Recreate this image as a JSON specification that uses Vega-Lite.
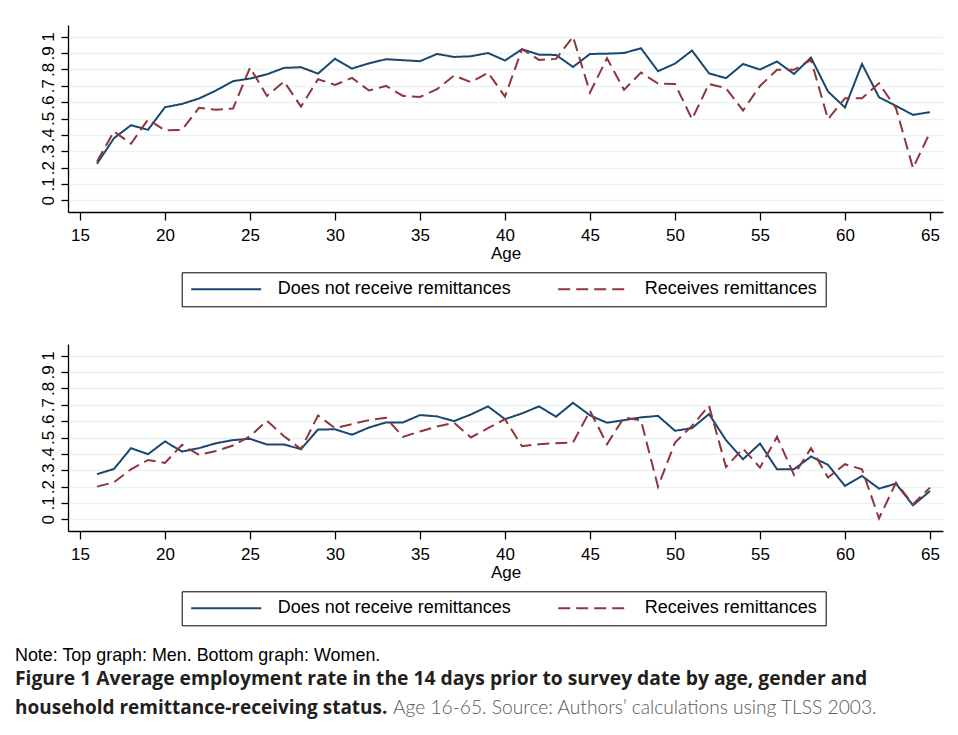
{
  "$schema": "https://vega.github.io/schema/vega-lite/v6.json",
  "padding": {"left": 15, "top": 25, "right": 10, "bottom": 5},
  "background": "white",
  "datasets": {
    "men": [
      {"age":16,"Does not receive remittances":0.224,"Receives remittances":0.238},
      {"age":17,"Does not receive remittances":0.380,"Receives remittances":0.421},
      {"age":18,"Does not receive remittances":0.459,"Receives remittances":0.346},
      {"age":19,"Does not receive remittances":0.431,"Receives remittances":0.494},
      {"age":20,"Does not receive remittances":0.569,"Receives remittances":0.427},
      {"age":21,"Does not receive remittances":0.589,"Receives remittances":0.431},
      {"age":22,"Does not receive remittances":0.622,"Receives remittances":0.565},
      {"age":23,"Does not receive remittances":0.671,"Receives remittances":0.553},
      {"age":24,"Does not receive remittances":0.728,"Receives remittances":0.561},
      {"age":25,"Does not receive remittances":0.744,"Receives remittances":0.811},
      {"age":26,"Does not receive remittances":0.770,"Receives remittances":0.638},
      {"age":27,"Does not receive remittances":0.809,"Receives remittances":0.726},
      {"age":28,"Does not receive remittances":0.813,"Receives remittances":0.573},
      {"age":29,"Does not receive remittances":0.774,"Receives remittances":0.740},
      {"age":30,"Does not receive remittances":0.865,"Receives remittances":0.705},
      {"age":31,"Does not receive remittances":0.805,"Receives remittances":0.748},
      {"age":32,"Does not receive remittances":0.837,"Receives remittances":0.671},
      {"age":33,"Does not receive remittances":0.862,"Receives remittances":0.699},
      {"age":34,"Does not receive remittances":0.856,"Receives remittances":0.638},
      {"age":35,"Does not receive remittances":0.850,"Receives remittances":0.632},
      {"age":36,"Does not receive remittances":0.894,"Receives remittances":0.679},
      {"age":37,"Does not receive remittances":0.876,"Receives remittances":0.762},
      {"age":38,"Does not receive remittances":0.880,"Receives remittances":0.722},
      {"age":39,"Does not receive remittances":0.900,"Receives remittances":0.780},
      {"age":40,"Does not receive remittances":0.854,"Receives remittances":0.634},
      {"age":41,"Does not receive remittances":0.923,"Receives remittances":0.923},
      {"age":42,"Does not receive remittances":0.890,"Receives remittances":0.858},
      {"age":43,"Does not receive remittances":0.888,"Receives remittances":0.864},
      {"age":44,"Does not receive remittances":0.815,"Receives remittances":1.0},
      {"age":45,"Does not receive remittances":0.894,"Receives remittances":0.659},
      {"age":46,"Does not receive remittances":0.896,"Receives remittances":0.868},
      {"age":47,"Does not receive remittances":0.900,"Receives remittances":0.675},
      {"age":48,"Does not receive remittances":0.929,"Receives remittances":0.780},
      {"age":49,"Does not receive remittances":0.789,"Receives remittances":0.713},
      {"age":50,"Does not receive remittances":0.835,"Receives remittances":0.711},
      {"age":51,"Does not receive remittances":0.915,"Receives remittances":0.496},
      {"age":52,"Does not receive remittances":0.776,"Receives remittances":0.711},
      {"age":53,"Does not receive remittances":0.746,"Receives remittances":0.685},
      {"age":54,"Does not receive remittances":0.833,"Receives remittances":0.549},
      {"age":55,"Does not receive remittances":0.799,"Receives remittances":0.699},
      {"age":56,"Does not receive remittances":0.848,"Receives remittances":0.797},
      {"age":57,"Does not receive remittances":0.772,"Receives remittances":0.797},
      {"age":58,"Does not receive remittances":0.872,"Receives remittances":0.858},
      {"age":59,"Does not receive remittances":0.665,"Receives remittances":0.496},
      {"age":60,"Does not receive remittances":0.567,"Receives remittances":0.624},
      {"age":61,"Does not receive remittances":0.833,"Receives remittances":0.624},
      {"age":62,"Does not receive remittances":0.630,"Receives remittances":0.715},
      {"age":63,"Does not receive remittances":0.577,"Receives remittances":0.563},
      {"age":64,"Does not receive remittances":0.522,"Receives remittances":0.197},
      {"age":65,"Does not receive remittances":0.539,"Receives remittances":0.415}
    ],
    "women": [
      {"age":16,"Does not receive remittances":0.276,"Receives remittances":0.200},
      {"age":17,"Does not receive remittances":0.308,"Receives remittances":0.227},
      {"age":18,"Does not receive remittances":0.435,"Receives remittances":0.306},
      {"age":19,"Does not receive remittances":0.398,"Receives remittances":0.363},
      {"age":20,"Does not receive remittances":0.476,"Receives remittances":0.345},
      {"age":21,"Does not receive remittances":0.414,"Receives remittances":0.455},
      {"age":22,"Does not receive remittances":0.435,"Receives remittances":0.394},
      {"age":23,"Does not receive remittances":0.465,"Receives remittances":0.418},
      {"age":24,"Does not receive remittances":0.484,"Receives remittances":0.451},
      {"age":25,"Does not receive remittances":0.492,"Receives remittances":0.508},
      {"age":26,"Does not receive remittances":0.457,"Receives remittances":0.602},
      {"age":27,"Does not receive remittances":0.457,"Receives remittances":0.508},
      {"age":28,"Does not receive remittances":0.429,"Receives remittances":0.429},
      {"age":29,"Does not receive remittances":0.549,"Receives remittances":0.635},
      {"age":30,"Does not receive remittances":0.550,"Receives remittances":0.557},
      {"age":31,"Does not receive remittances":0.517,"Receives remittances":0.582},
      {"age":32,"Does not receive remittances":0.561,"Receives remittances":0.606},
      {"age":33,"Does not receive remittances":0.592,"Receives remittances":0.620},
      {"age":34,"Does not receive remittances":0.592,"Receives remittances":0.504},
      {"age":35,"Does not receive remittances":0.637,"Receives remittances":0.537},
      {"age":36,"Does not receive remittances":0.629,"Receives remittances":0.567},
      {"age":37,"Does not receive remittances":0.600,"Receives remittances":0.590},
      {"age":38,"Does not receive remittances":0.641,"Receives remittances":0.500},
      {"age":39,"Does not receive remittances":0.690,"Receives remittances":0.557},
      {"age":40,"Does not receive remittances":0.612,"Receives remittances":0.612},
      {"age":41,"Does not receive remittances":0.647,"Receives remittances":0.447},
      {"age":42,"Does not receive remittances":0.690,"Receives remittances":0.459},
      {"age":43,"Does not receive remittances":0.627,"Receives remittances":0.465},
      {"age":44,"Does not receive remittances":0.712,"Receives remittances":0.469},
      {"age":45,"Does not receive remittances":0.635,"Receives remittances":0.663},
      {"age":46,"Does not receive remittances":0.590,"Receives remittances":0.459},
      {"age":47,"Does not receive remittances":0.606,"Receives remittances":0.622},
      {"age":48,"Does not receive remittances":0.623,"Receives remittances":0.604},
      {"age":49,"Does not receive remittances":0.632,"Receives remittances":0.200},
      {"age":50,"Does not receive remittances":0.541,"Receives remittances":0.469},
      {"age":51,"Does not receive remittances":0.557,"Receives remittances":0.571},
      {"age":52,"Does not receive remittances":0.643,"Receives remittances":0.694},
      {"age":53,"Does not receive remittances":0.484,"Receives remittances":0.320},
      {"age":54,"Does not receive remittances":0.367,"Receives remittances":0.433},
      {"age":55,"Does not receive remittances":0.463,"Receives remittances":0.316},
      {"age":56,"Does not receive remittances":0.306,"Receives remittances":0.504},
      {"age":57,"Does not receive remittances":0.306,"Receives remittances":0.271},
      {"age":58,"Does not receive remittances":0.384,"Receives remittances":0.435},
      {"age":59,"Does not receive remittances":0.333,"Receives remittances":0.255},
      {"age":60,"Does not receive remittances":0.204,"Receives remittances":0.337},
      {"age":61,"Does not receive remittances":0.265,"Receives remittances":0.306},
      {"age":62,"Does not receive remittances":0.188,"Receives remittances":0.006},
      {"age":63,"Does not receive remittances":0.218,"Receives remittances":0.224},
      {"age":64,"Does not receive remittances":0.086,"Receives remittances":0.092},
      {"age":65,"Does not receive remittances":0.173,"Receives remittances":0.194}
    ]
  },
  "config": {
    "view": {"stroke": null},
    "font": "Liberation Sans",
    "axis": {
      "domainColor": "#000", "domainWidth": 1.3, "tickColor": "#000", "tickWidth": 1.3,
      "labelColor": "#000", "titleColor": "#000", "labelFont": "Liberation Sans", "titleFont": "Liberation Sans",
      "labelFontSize": 17, "titleFontSize": 17, "titleFontWeight": "normal",
      "gridColor": "#eaf2f3", "gridWidth": 1.7, "labelOverlap": false, "labelFlush": false
    },
    "axisX": {"tickSize": 8, "labelPadding": 7, "titlePadding": 2, "grid": false},
    "axisY": {"tickSize": 7, "labelPadding": 4, "labelAngle": -90, "grid": true, "minExtent": 53},
    "legend": {
      "orient": "none", "legendX": 113.7, "legendY": 247.3, "direction": "horizontal", "strokeColor": "#000", "padding": 8,
      "symbolType": "M-1,0H8.333", "symbolSize": 225, "symbolStrokeWidth": 2,
      "labelFont": "Liberation Sans", "labelFontSize": 18, "labelColor": "#000",
      "labelOffset": 70, "labelLimit": 600, "columnPadding": 42
    },
    "title": {"anchor": "start", "offset": 0}
  },
  "spacing": 21,
  "vconcat": [
    {
      "spacing": 37,
      "resolve": {"legend": {"color": "independent", "strokeDash": "independent"}},
      "vconcat": [
        {
          "width": 875, "height": 187,
          "data": {"name": "men"},
          "transform": [{"fold": ["Does not receive remittances", "Receives remittances"], "as": ["status", "rate"]}],
          "mark": {"type": "line", "strokeWidth": 2},
          "encoding": {
            "x": {"field": "age", "type": "quantitative", "scale": {"domain": [14.294, 65.765], "nice": false, "zero": false},
                  "axis": {"values": [15,20,25,30,35,40,45,50,55,60,65], "title": "Age"}},
            "y": {"field": "rate", "type": "quantitative", "scale": {"domain": [-0.071, 1.071], "nice": false, "zero": false},
                  "axis": {"values": [0,0.1,0.2,0.3,0.4,0.5,0.6,0.7,0.8,0.9,1], "title": null,
                           "labelExpr": "datum.value == 0 ? '0' : datum.value == 1 ? '1' : replace(format(datum.value, '.1f'), '0.', '.')"}},
            "color": {"field": "status", "type": "nominal",
                      "scale": {"domain": ["Does not receive remittances", "Receives remittances"], "range": ["#1a476f", "#90353b"]},
                      "legend": {"title": null}},
            "strokeDash": {"field": "status", "type": "nominal",
                      "scale": {"domain": ["Does not receive remittances", "Receives remittances"], "range": [[1, 0], [12, 6]]},
                      "legend": {"title": null}}
          }
        },
        {
          "width": 875, "height": 187,
          "data": {"name": "women"},
          "transform": [{"fold": ["Does not receive remittances", "Receives remittances"], "as": ["status", "rate"]}],
          "mark": {"type": "line", "strokeWidth": 2},
          "encoding": {
            "x": {"field": "age", "type": "quantitative", "scale": {"domain": [14.294, 65.765], "nice": false, "zero": false},
                  "axis": {"values": [15,20,25,30,35,40,45,50,55,60,65], "title": "Age"}},
            "y": {"field": "rate", "type": "quantitative", "scale": {"domain": [-0.071, 1.071], "nice": false, "zero": false},
                  "axis": {"values": [0,0.1,0.2,0.3,0.4,0.5,0.6,0.7,0.8,0.9,1], "title": null,
                           "labelExpr": "datum.value == 0 ? '0' : datum.value == 1 ? '1' : replace(format(datum.value, '.1f'), '0.', '.')"}},
            "color": {"field": "status", "type": "nominal",
                      "scale": {"domain": ["Does not receive remittances", "Receives remittances"], "range": ["#1a476f", "#90353b"]},
                      "legend": {"title": null}},
            "strokeDash": {"field": "status", "type": "nominal",
                      "scale": {"domain": ["Does not receive remittances", "Receives remittances"], "range": [[1, 0], [12, 6]]},
                      "legend": {"title": null}}
          }
        }
      ]
    },
    {
      "spacing": 1,
      "vconcat": [
        {
          "width": 1, "height": 1, "data": {"values": []}, "mark": {"type": "text"}, "encoding": {},
          "title": {"text": "Note: Top graph: Men. Bottom graph: Women.", "font": "Liberation Sans", "fontSize": 17.9, "fontWeight": "normal", "color": "#000", "dx": -53, "offset": 2}
        },
        {
          "width": 1, "height": 1, "data": {"values": []}, "mark": {"type": "text"}, "encoding": {},
          "title": {"text": "Figure 1 Average employment rate in the 14 days prior to survey date by age, gender and", "font": "Open Sans", "fontSize": 19.3, "fontWeight": "bold", "color": "#231f20", "dx": -53, "offset": 7}
        },
        {
          "spacing": 5,
          "hconcat": [
            {
              "width": 1, "height": 1, "data": {"values": []}, "mark": {"type": "text"}, "encoding": {},
              "title": {"text": "household remittance-receiving status.", "font": "Open Sans", "fontSize": 19, "fontWeight": "bold", "color": "#231f20", "dx": -53}
            },
            {
              "width": 1, "height": 1, "data": {"values": []}, "mark": {"type": "text"}, "encoding": {},
              "title": {"text": "Age 16-65. Source: Authors’ calculations using TLSS 2003.", "font": "Lato", "fontSize": 19.2, "fontWeight": 300, "color": "#58595b", "dx": -53}
            }
          ]
        }
      ]
    }
  ]
}
